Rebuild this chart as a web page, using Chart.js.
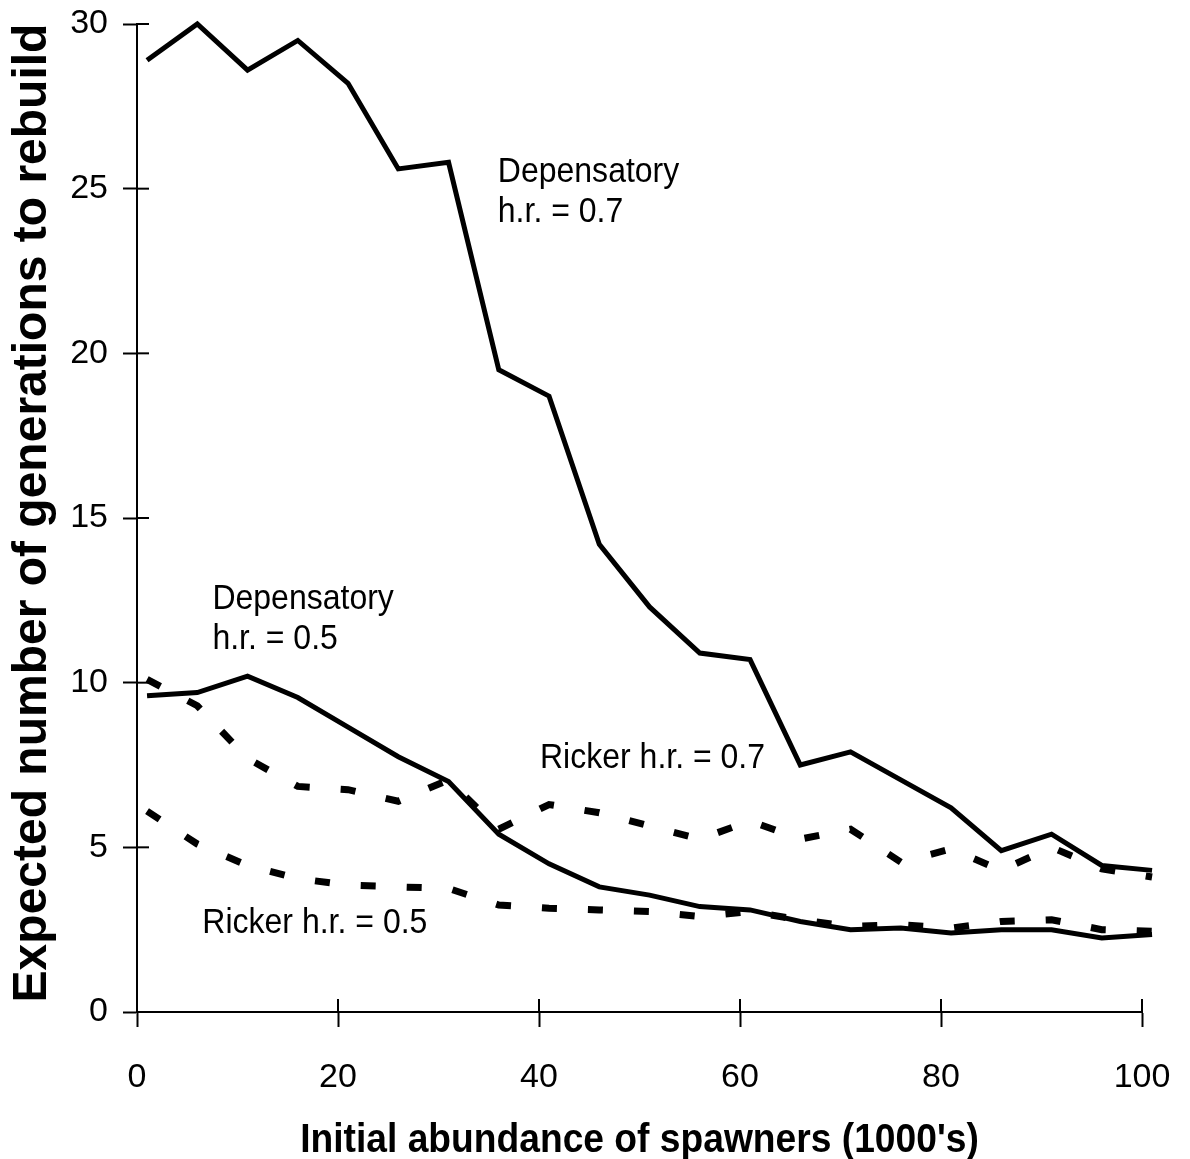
<!DOCTYPE html>
<html>
<head>
<meta charset="utf-8">
<title>Generations to rebuild</title>
<script src="https://cdn.jsdelivr.net/npm/chart.js@4.4.1/dist/chart.umd.min.js"></script>
<style>
  html, body { margin: 0; padding: 0; background: #fff; }
  #wrap { width: 1190px; height: 1159px; }
</style>
</head>
<body>
<div id="wrap"><canvas id="rebuildChart" width="1190" height="1159"></canvas></div>
<script>
// initial abundance of spawners (1000's)
const abundance = [1, 6, 11, 16, 21, 26, 31, 36, 41, 46, 51, 56, 61, 66, 71, 76, 81, 86, 91, 96, 101];

// expected number of generations to rebuild
const depens07 = [28.9, 30.0, 28.6, 29.5, 28.2, 25.6, 25.8, 19.5, 18.7, 14.2, 12.3, 10.9, 10.7, 7.5, 7.9, 7.05, 6.2, 4.9, 5.4, 4.45, 4.3];
const depens05 = [9.6, 9.7, 10.2, 9.55, 8.65, 7.75, 7.0, 5.4, 4.5, 3.8, 3.55, 3.2, 3.1, 2.75, 2.5, 2.55, 2.4, 2.5, 2.5, 2.25, 2.35];
const ricker07 = [10.1, 9.3, 7.7, 6.85, 6.75, 6.4, 7.05, 5.55, 6.3, 6.05, 5.65, 5.25, 5.8, 5.25, 5.55, 4.55, 4.95, 4.3, 5.0, 4.35, 4.1];
const ricker05 = [6.1, 5.1, 4.45, 4.05, 3.85, 3.8, 3.75, 3.25, 3.15, 3.1, 3.05, 2.9, 3.05, 2.8, 2.6, 2.65, 2.55, 2.75, 2.8, 2.5, 2.45];

const xTickValues = [0, 20, 40, 60, 80, 100];
const yTickValues = [0, 5, 10, 15, 20, 25, 30];

const xTitle = "Initial abundance of spawners (1000's)";
const yTitle = 'Expected number of generations to rebuild';

// curve labels, anchored in data units (first line baseline)
const curveNotes = [
  { lines: ['Depensatory', 'h.r. = 0.7'], x: 35.9, y: 25.2 },
  { lines: ['Depensatory', 'h.r. = 0.5'], x: 7.5, y: 12.25 },
  { lines: ['Ricker h.r. = 0.7'], x: 40.1, y: 7.4 },
  { lines: ['Ricker h.r. = 0.5'], x: 6.5, y: 2.4 }
];

const FONT = '"Liberation Sans", Arial, Helvetica, sans-serif';

function toPoints(ys) {
  return abundance.map((a, i) => ({ x: a, y: ys[i] }));
}

function solid(ys, label) {
  return {
    label: label,
    data: toPoints(ys),
    borderColor: '#000',
    borderWidth: 5,
    borderJoinStyle: 'miter',
    pointRadius: 0,
    tension: 0,
    clip: false
  };
}

function dashed(ys, label) {
  return {
    label: label,
    data: toPoints(ys),
    borderColor: '#000',
    borderWidth: 7,
    borderDash: [15, 31],
    borderCapStyle: 'butt',
    pointRadius: 0,
    tension: 0,
    clip: false
  };
}

// inner half of the tick marks, curve notes and axis titles
const extras = {
  id: 'extras',
  afterDraw(chart) {
    const { ctx, chartArea, scales } = chart;
    const xs = scales.x, ys = scales.y;
    ctx.save();
    ctx.strokeStyle = '#000';
    ctx.lineWidth = 2;
    yTickValues.forEach(v => {
      const py = ys.getPixelForValue(v);
      ctx.beginPath();
      ctx.moveTo(chartArea.left, py);
      ctx.lineTo(chartArea.left + 12, py);
      ctx.stroke();
    });
    xTickValues.forEach(v => {
      const px = xs.getPixelForValue(v);
      ctx.beginPath();
      ctx.moveTo(px, chartArea.bottom);
      ctx.lineTo(px, chartArea.bottom - 13);
      ctx.stroke();
    });

    ctx.fillStyle = '#000';
    ctx.textAlign = 'left';
    ctx.textBaseline = 'alphabetic';
    ctx.font = '33px ' + FONT;
    curveNotes.forEach(n => {
      const px = xs.getPixelForValue(n.x);
      const py = ys.getPixelForValue(n.y);
      n.lines.forEach((line, i) => {
        ctx.save();
        ctx.translate(px, py + i * 40);
        ctx.scale(0.97, 1.05);
        ctx.fillText(line, 0, 0);
        ctx.restore();
      });
    });

    ctx.textAlign = 'center';
    ctx.save();
    ctx.translate((chartArea.left + chartArea.right) / 2, chart.height - 7);
    ctx.scale(0.93, 1);
    ctx.font = 'bold 40px ' + FONT;
    ctx.fillText(xTitle, 0, 0);
    ctx.restore();

    ctx.translate(46, (chartArea.top + chartArea.bottom) / 2 - 5);
    ctx.rotate(-Math.PI / 2);
    ctx.font = 'bold 48px ' + FONT;
    ctx.fillText(yTitle, 0, 0);
    ctx.restore();
  }
};

const ctx = document.getElementById('rebuildChart').getContext('2d');

new Chart(ctx, {
  type: 'line',
  data: {
    datasets: [
      solid(depens07, 'Depensatory h.r. = 0.7'),
      solid(depens05, 'Depensatory h.r. = 0.5'),
      dashed(ricker07, 'Ricker h.r. = 0.7'),
      dashed(ricker05, 'Ricker h.r. = 0.5')
    ]
  },
  options: {
    responsive: false,
    animation: false,
    devicePixelRatio: 1,
    layout: {
      padding: { left: 0, right: 48, top: 24, bottom: 0 }
    },
    plugins: {
      legend: { display: false },
      tooltip: { enabled: false }
    },
    scales: {
      x: {
        type: 'linear',
        min: 0,
        max: 100,
        afterBuildTicks: s => { s.ticks = xTickValues.map(v => ({ value: v })); },
        afterFit: s => {
          s.height = 147;
          s.paddingLeft = 0;
          s.paddingRight = 0;
        },
        border: { display: true, color: '#000', width: 2 },
        grid: {
          drawOnChartArea: false,
          drawTicks: true,
          tickLength: 15,
          tickColor: '#000',
          tickWidth: 2
        },
        ticks: {
          color: '#000',
          padding: 30,
          maxRotation: 0,
          font: { family: FONT, size: 34 }
        }
      },
      y: {
        type: 'linear',
        min: 0,
        max: 30,
        afterBuildTicks: s => { s.ticks = yTickValues.map(v => ({ value: v })); },
        afterFit: s => {
          s.width = 137;
          s.paddingTop = 0;
          s.paddingBottom = 0;
        },
        border: { display: true, color: '#000', width: 2 },
        grid: {
          drawOnChartArea: false,
          drawTicks: true,
          tickLength: 14,
          tickColor: '#000',
          tickWidth: 2
        },
        ticks: {
          color: '#000',
          padding: 15,
          font: { family: FONT, size: 34 }
        }
      }
    }
  },
  plugins: [extras]
});
</script>
</body>
</html>
